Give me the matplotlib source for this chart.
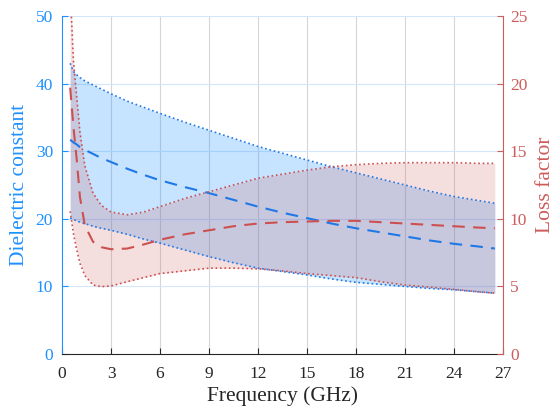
import matplotlib
matplotlib.use("Agg")
import matplotlib.pyplot as plt

plt.rcParams['font.family'] = ['Liberation Serif', 'DejaVu Serif']

freq = [0.5, 0.7, 0.9, 1.1, 1.4, 1.9, 2.4, 3, 4, 5, 6, 7.5, 9, 10.5, 12, 13.5,
        15, 16.5, 18, 19.5, 21, 22.5, 24, 25.5, 26.5]

eps_upper = [43.0, 41.8, 41.3, 40.9, 40.4, 39.8, 39.2, 38.5, 37.4, 36.5, 35.6, 34.3,
             33.1, 31.9, 30.7, 29.7, 28.7, 27.7, 26.8, 25.9, 25.0, 24.1, 23.3, 22.7, 22.3]
eps_mean = [31.7, 31.3, 31.0, 30.6, 30.2, 29.6, 29.0, 28.4, 27.4, 26.5, 25.7, 24.7,
            23.8, 22.8, 21.8, 20.9, 20.1, 19.3, 18.6, 18.0, 17.4, 16.8, 16.3, 15.9, 15.6]
eps_lower = [20.1, 19.9, 19.7, 19.5, 19.3, 18.9, 18.6, 18.3, 17.7, 17.0, 16.4, 15.4,
             14.4, 13.5, 12.7, 12.2, 11.7, 11.1, 10.6, 10.3, 10.0, 9.7, 9.5, 9.2, 9.0]

loss_upper = [27.0, 21.7, 19.0, 16.4, 13.9, 11.9, 11.0, 10.5, 10.3, 10.5, 10.9, 11.5,
              12.0, 12.5, 13.0, 13.3, 13.6, 13.85, 14.0, 14.1, 14.15, 14.15, 14.15, 14.1, 14.1]
loss_mean = [19.7, 16.8, 14.4, 11.6, 9.5, 8.3, 7.9, 7.75, 7.8, 8.1, 8.45, 8.85,
             9.15, 9.45, 9.65, 9.75, 9.8, 9.85, 9.85, 9.75, 9.65, 9.55, 9.45, 9.35, 9.3]
loss_lower = [10.55, 8.9, 7.7, 6.7, 5.8, 5.1, 4.98, 5.03, 5.35, 5.65, 5.95, 6.15,
              6.35, 6.35, 6.3, 6.15, 5.95, 5.8, 5.65, 5.35, 5.1, 4.95, 4.78, 4.6, 4.5]

x_ticks = [0, 3, 6, 9, 12, 15, 18, 21, 24, 27]
left_ticks = [0, 10, 20, 30, 40, 50]
right_ticks = [0, 5, 10, 15, 20, 25]

BLUE_AX = '#1E90FF'
BLUE = '#1F78E6'
RED_AX = '#CD5C5C'
RED = '#CD5050'

fig = plt.figure(figsize=(5.55, 4.08), dpi=100)
ax1 = fig.add_axes([62/555, 1 - 354/408, 441/555, 338/408])
ax2 = ax1.twinx()

ax1.set_xlim(0, 27)
ax1.set_ylim(0, 50)
ax2.set_ylim(0, 25)

# grid
for xt in x_ticks[1:]:
    ax1.axvline(xt, color='#d6d6d9', lw=0.8, zorder=0.5)
for yt in left_ticks[1:]:
    ax1.axhline(yt, color='#d4e6fb', lw=0.8, zorder=0.5)

# fills
ax1.fill_between(freq, eps_lower, eps_upper, color=BLUE_AX, alpha=0.25, lw=0, zorder=1)
ax2.fill_between(freq, loss_lower, loss_upper, color=RED_AX, alpha=0.2, lw=0, zorder=1)

# lines (all on ax2 so they sit above both fills)
t1 = ax1.transData
ax2.plot(freq, eps_upper, ':', color=BLUE, lw=1.2, transform=t1, zorder=3)
ax2.plot(freq, eps_lower, ':', color=BLUE, lw=1.2, transform=t1, zorder=3)
ax2.plot(freq, eps_mean, color=BLUE, lw=1.5, dashes=(6, 4), transform=t1, zorder=3)
ax2.plot(freq, loss_upper, ':', color=RED, lw=1.2, zorder=3)
ax2.plot(freq, loss_lower, ':', color=RED, lw=1.2, zorder=3)
ax2.plot(freq, loss_mean, color=RED, lw=1.5, dashes=(6, 4), zorder=3)

ax1.set_xticks(x_ticks)
ax1.set_yticks(left_ticks)
ax2.set_yticks(right_ticks)

for ax in (ax1, ax2):
    ax.spines['top'].set_visible(False)
ax1.spines['right'].set_visible(False)
ax2.spines['left'].set_visible(False)
ax2.spines['bottom'].set_visible(False)
ax1.spines['left'].set_color(BLUE_AX)
ax2.spines['right'].set_color(RED_AX)
ax1.spines['bottom'].set_color('#262626')

ax1.tick_params(axis='x', direction='in', length=4, colors='#262626', labelsize=12.5, pad=9)
ax1.tick_params(axis='y', direction='in', length=4, colors=BLUE_AX, labelsize=12.5, pad=6.5)
ax2.tick_params(axis='y', direction='in', length=4, colors=RED_AX, labelsize=12.5, pad=5)

ax1.set_xlabel('Frequency (GHz)', fontsize=15.5, color='#262626', labelpad=2.5)
ax1.set_ylabel('Dielectric constant', fontsize=15.5, color=BLUE_AX, labelpad=5)
ax2.set_ylabel('Loss factor', fontsize=15.5, color=RED_AX, labelpad=6)

fig.savefig('out.png', dpi=100)
